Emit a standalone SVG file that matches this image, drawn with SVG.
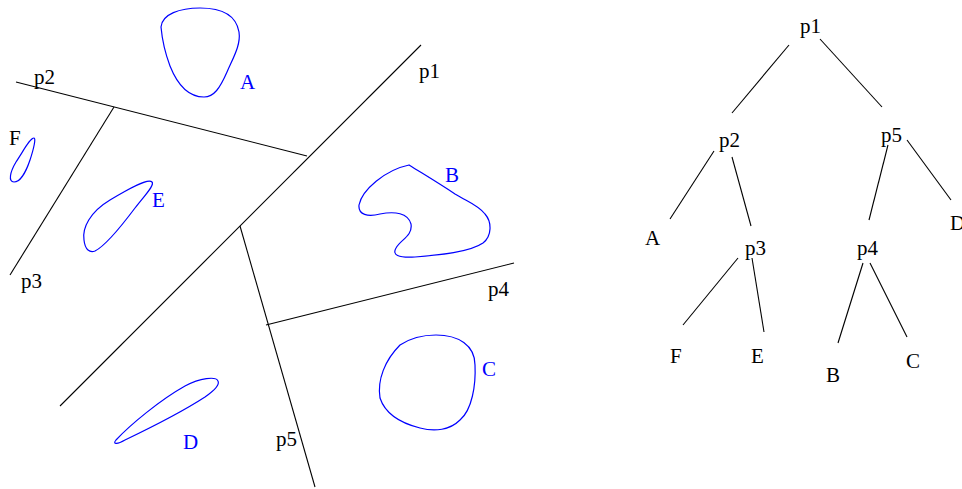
<svg xmlns="http://www.w3.org/2000/svg" width="962" height="489" viewBox="0 0 962 489">
<style>
  .ln { stroke: #000; stroke-width: 1.1; fill: none; }
  .reg { stroke: #0000ff; stroke-width: 1.2; fill: none; }
  .t { font-family: "Liberation Serif", "Times New Roman", serif; font-size: 21px; fill: #000; }
  .tb { font-family: "Liberation Serif", "Times New Roman", serif; font-size: 21px; fill: #0000ff; }
</style>
<rect width="962" height="489" fill="#fff"/>
<g id="connectors">
  <line class="ln" x1="60" y1="406" x2="421" y2="45"/>
  <line class="ln" x1="16" y1="82" x2="307" y2="156"/>
  <line class="ln" x1="114" y1="107" x2="10" y2="275"/>
  <line class="ln" x1="240" y1="226" x2="315" y2="487"/>
  <line class="ln" x1="266" y1="325" x2="514" y2="263"/>
  <line class="ln" x1="789" y1="45" x2="732" y2="113"/>
  <line class="ln" x1="820" y1="39" x2="882" y2="107"/>
  <line class="ln" x1="714" y1="151" x2="670" y2="219"/>
  <line class="ln" x1="732" y1="157" x2="751" y2="226"/>
  <line class="ln" x1="888" y1="145" x2="869" y2="220"/>
  <line class="ln" x1="907" y1="140" x2="951" y2="200"/>
  <line class="ln" x1="738" y1="258" x2="683" y2="325"/>
  <line class="ln" x1="752" y1="258" x2="764" y2="332"/>
  <line class="ln" x1="863" y1="263" x2="838" y2="343"/>
  <line class="ln" x1="870" y1="263" x2="907" y2="337"/>
</g>
<g id="plane-labels">
  <text class="t" x="419" y="78">p1</text>
  <text class="t" x="34" y="84">p2</text>
  <text class="t" x="21" y="288">p3</text>
  <text class="t" x="488" y="296">p4</text>
  <text class="t" x="276" y="446">p5</text>
</g>
<g id="region-A">
  <path class="reg" d="M161,27 C162,14 180,8 200,8 C220,8 236,14 239,32 C241,45 233,58 227,72 C220,88 214,97 204,97 C190,97 178,86 170,66 C164,50 162,38 161,27 Z"/>
  <text class="tb" x="240" y="89">A</text>
</g>
<g id="region-B">
  <path class="reg" d="M409,165 C385,170 362,190 359,205 C358,215 368,217 380,214 C395,211 408,213 411,224 C413,236 400,240 396,248 C392,255 398,258 415,257 C440,255 470,252 483,243 C492,236 492,222 485,214 C478,205 468,202 455,194 C440,184 425,175 409,165 Z"/>
  <text class="tb" x="445" y="182">B</text>
</g>
<g id="region-C">
  <path class="reg" d="M436,335 C458,335 475,345 475,365 C476,385 472,410 460,420 C450,430 435,432 420,428 C400,423 385,413 380,398 C377,380 385,360 400,345 C412,337 423,335 436,335 Z"/>
  <text class="tb" x="482" y="376">C</text>
</g>
<g id="region-D">
  <path class="reg" d="M218,381 C216,376 200,378 185,386 C160,400 130,425 116,440 C112,445 118,444 125,440 C150,428 185,410 205,397 C215,390 220,385 218,381 Z"/>
  <text class="tb" x="183" y="449">D</text>
</g>
<g id="region-E">
  <path class="reg" d="M152,182 C148,178 130,188 110,200 C90,212 82,228 84,240 C85,250 90,253 95,251 C105,246 120,228 135,208 C145,195 155,185 152,182 Z"/>
  <text class="tb" x="152" y="207">E</text>
</g>
<g id="region-F">
  <path class="reg" d="M34,138 C30,138 24,150 16,162 C10,172 8,182 14,182 C20,182 26,172 30,160 C34,148 36,138 34,138 Z"/>
  <text class="t" x="9" y="145">F</text>
</g>
<g id="tree-p1"><text class="t" x="800" y="33">p1</text></g>
<g id="tree-p2"><text class="t" x="719" y="147">p2</text></g>
<g id="tree-p5"><text class="t" x="881" y="142">p5</text></g>
<g id="tree-p3"><text class="t" x="745" y="255">p3</text></g>
<g id="tree-p4"><text class="t" x="857" y="255">p4</text></g>
<g id="tree-A"><text class="t" x="645" y="245">A</text></g>
<g id="tree-D"><text class="t" x="950" y="230">D</text></g>
<g id="tree-F"><text class="t" x="670" y="363">F</text></g>
<g id="tree-E"><text class="t" x="751" y="363">E</text></g>
<g id="tree-B"><text class="t" x="826" y="382">B</text></g>
<g id="tree-C"><text class="t" x="906" y="368">C</text></g>
</svg>
